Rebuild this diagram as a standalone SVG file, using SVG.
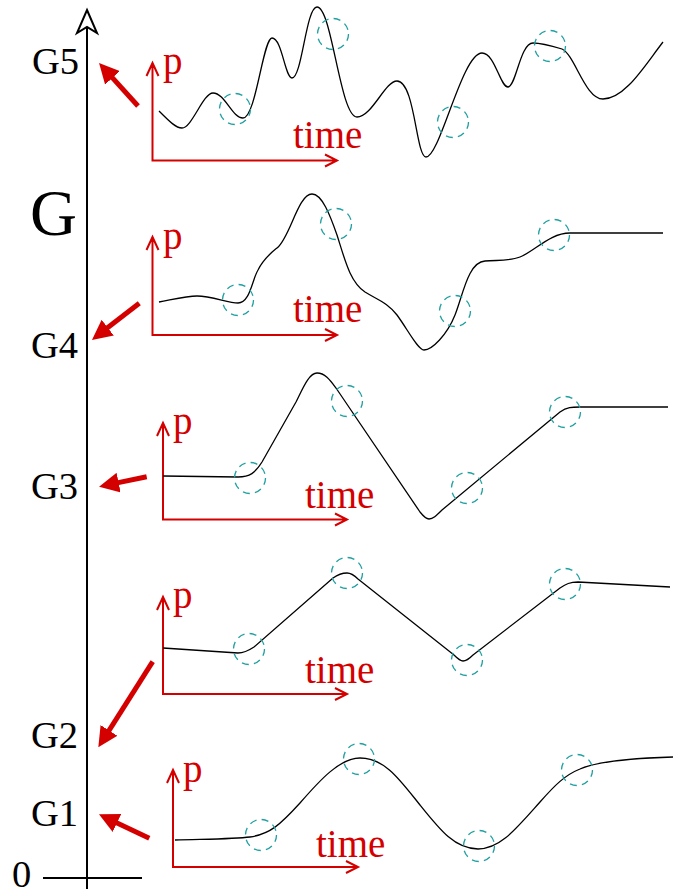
<svg xmlns="http://www.w3.org/2000/svg" width="674" height="894" viewBox="0 0 674 894">
<style>
.lbl{font-family:"Liberation Serif","Times New Roman",serif;font-size:38.5px;fill:#000}
.rl{font-family:"Liberation Serif","Times New Roman",serif;font-size:39px;fill:#d40000}
.ax{fill:none;stroke:#d40000;stroke-width:2}
.cv{fill:none;stroke:#000;stroke-width:1.3;stroke-linejoin:round}
.ci{fill:none;stroke:#20a0a0;stroke-width:1.3;stroke-dasharray:7 5.2}
.ra{fill:none;stroke:#d40000;stroke-width:5;marker-end:url(#rh)}
</style>
<defs>
<marker id="rh" markerUnits="userSpaceOnUse" viewBox="0 0 20 20" markerWidth="20" markerHeight="20" refX="4" refY="10" orient="auto">
<path d="M0,0 L20,10 L0,20 z" fill="#d40000"/>
</marker>
</defs>
<rect width="674" height="894" fill="#fff"/>
<g id="main-axis">
<line x1="87" y1="28" x2="87" y2="889" stroke="#000" stroke-width="2"/>
<polygon points="87,10 97,33 87,27 77,33" fill="#fff" stroke="#000" stroke-width="2" stroke-linejoin="miter"/>
<line x1="43" y1="878" x2="142" y2="878" stroke="#000" stroke-width="2"/>
<text class="lbl" x="12" y="887">0</text>
<text class="lbl" x="31" y="826">G1</text>
<text class="lbl" x="31" y="748">G2</text>
<text class="lbl" x="31" y="499">G3</text>
<text class="lbl" x="31" y="358">G4</text>
<text class="lbl" x="32" y="74">G5</text>
<text class="lbl" x="30" y="235" style="font-size:65px">G</text>
</g>
<g id="connectors">
<line class="ra" x1="138" y1="106" x2="109.8" y2="74.9"/>
<line class="ra" x1="139.3" y1="303.3" x2="104.6" y2="330.1"/>
<line class="ra" x1="146.7" y1="476.7" x2="114.7" y2="483.4"/>
<line class="ra" x1="152.7" y1="661.7" x2="106.9" y2="733.8"/>
<line class="ra" x1="149.3" y1="838.3" x2="113.4" y2="821.2"/>
</g>
<g id="plot5">
<path class="ax" d="M152.5,63 V160.5 H337 M146.5,76 L152.5,63 L158.5,76 M325,154.5 L337,160.5 L325,166.5"/>
<text class="rl" x="163" y="74">p</text>
<text class="rl" x="293" y="148">time</text>
<path class="cv" d="M159,111 C170,122 176,128 182,128 C192,128 203,93 213,93 C225,93 232,118 243,118 C256,118 263,38 272,38 C282,38 285,78 292,78 C302,78 306,7 317,7 C332,7 340,117 357,117 C372,117 385,81 397,81 C415,81 416,157 426,157 C440,157 462,53 482,53 C495,53 500,87 508,87 C516,87 520,43 533,43 C541,43 552,46 562,49 C575,55 585,99 603,99 C625,99 645,65 663,42"/>
<circle class="ci" cx="235" cy="109" r="15.5"/>
<circle class="ci" cx="333" cy="34" r="15.5"/>
<circle class="ci" cx="453" cy="122" r="15.5"/>
<circle class="ci" cx="550" cy="46" r="15.5"/>
</g>
<g id="plot4">
<path class="ax" d="M152.5,237 V335 H337 M146.5,250 L152.5,237 L158.5,250 M325,329 L337,335 L325,341"/>
<text class="rl" x="163" y="249">p</text>
<text class="rl" x="293" y="322">time</text>
<path class="cv" d="M159,302 C175,299 187,296 197,296 C212,296 228,303 238,303 C250,303 252,280 258,270 C264,258 272,252 277,248 C290,238 298,194 312,194 C322,194 330,215 337,235 C345,260 350,282 365,292 C378,300 388,303 397,315 C408,330 418,350 424,350 C432,350 447,335 455,315 C463,295 468,262 485,261 C500,260 510,261 520,257 C535,251 550,233 570,233 L663,233"/>
<circle class="ci" cx="238" cy="300" r="15.5"/>
<circle class="ci" cx="336" cy="224" r="15.5"/>
<circle class="ci" cx="455" cy="311" r="15.5"/>
<circle class="ci" cx="554" cy="235" r="15.5"/>
</g>
<g id="plot3">
<path class="ax" d="M163,423 V519.5 H347 M157,436 L163,423 L169,436 M335,513.5 L347,519.5 L335,525.5"/>
<text class="rl" x="173" y="434">p</text>
<text class="rl" x="305" y="508">time</text>
<path class="cv" d="M163,476 L238,477 C250,477 255,473 262,462 L296,402 C303,388 309,373 317,373 C325,373 330,380 336,388 L420,512 C424,517 426,519 429,519 C433,519 436,516 442,510 L560,412 C567,407 572,407 580,407 L668,407"/>
<circle class="ci" cx="250" cy="478" r="15.5"/>
<circle class="ci" cx="347" cy="401" r="15.5"/>
<circle class="ci" cx="467" cy="488" r="15.5"/>
<circle class="ci" cx="565" cy="412" r="15.5"/>
</g>
<g id="plot2">
<path class="ax" d="M163,597 V694 H347 M157,610 L163,597 L169,610 M335,688 L347,694 L335,700"/>
<text class="rl" x="173" y="608">p</text>
<text class="rl" x="305" y="683">time</text>
<path class="cv" d="M163,648 L238,653 C244,653 248,651 254,647 L333,578 C340,573 344,573 347,573 C351,573 354,575 358,579 L454,655 C459,660 461,661 463,661 C466,661 469,659 473,655 L560,588 C566,584 570,582 578,582 L670,587"/>
<circle class="ci" cx="249" cy="649" r="15.5"/>
<circle class="ci" cx="347" cy="573" r="15.5"/>
<circle class="ci" cx="467" cy="660" r="15.5"/>
<circle class="ci" cx="565" cy="584" r="15.5"/>
</g>
<g id="plot1">
<path class="ax" d="M173,770 V867 H358 M167,783 L173,770 L179,783 M346,861 L358,867 L346,873"/>
<text class="rl" x="183" y="782">p</text>
<text class="rl" x="316" y="857">time</text>
<path class="cv" d="M175,840 C210,839 235,839 250,837 C270,834 280,825 300,803 C320,780 340,758 360,758 C385,758 400,780 420,805 C440,830 455,849 478,849 C500,849 515,830 540,802 C555,785 565,775 580,769 C600,760 640,758 673,757"/>
<circle class="ci" cx="261" cy="835" r="15.5"/>
<circle class="ci" cx="359" cy="759" r="15.5"/>
<circle class="ci" cx="479" cy="846" r="15.5"/>
<circle class="ci" cx="577" cy="770" r="15.5"/>
</g>
</svg>
